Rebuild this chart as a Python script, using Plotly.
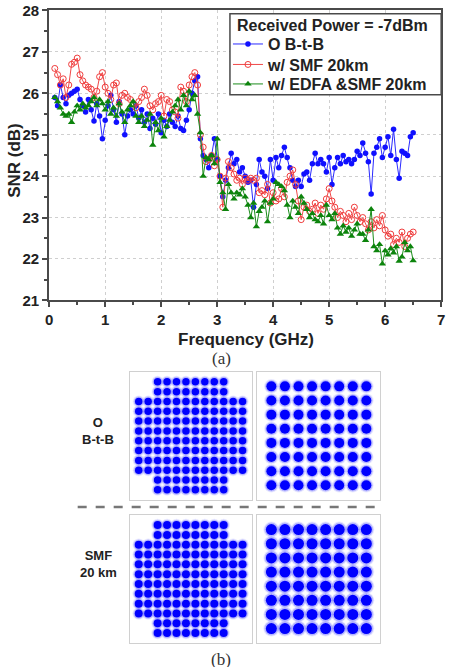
import plotly.graph_objects as go

# ---------------- data ----------------
freq_ghz = [round(0.10 + 0.05 * i, 2) for i in range(129)]

snr_btb = [
    25.9, 25.7, 26.2, 25.9, 25.75, 25.95, 26.0, 26.05, 26.1, 25.85,
    25.7, 25.55, 25.85, 25.6, 25.33, 25.75, 25.45, 24.9, 25.35, 25.7,
    25.95, 25.6, 25.3, 25.8, 25.5, 25.0, 25.45, 25.6, 25.5, 25.7,
    25.4, 25.6, 25.3, 25.5, 25.15, 25.4, 25.25, 25.5, 25.05, 25.35,
    25.2, 25.5, 25.3, 25.2, 25.45, 25.15, 25.1, 25.35, 25.6, 26.0,
    26.3, 26.4, 24.9, 24.5, 24.4, 24.2, 24.5, 24.9, 24.4, 24.0,
    23.5, 23.9, 24.2, 24.55, 24.3, 24.4, 24.1, 24.2, 24.0, 23.85,
    23.9, 23.25, 23.8, 24.4, 24.1, 24.0, 23.7, 24.4, 23.9, 24.45,
    24.2, 24.5, 24.7, 24.45, 24.2, 23.9, 23.75, 23.9, 23.75, 24.05,
    24.1, 23.9, 24.3, 24.55, 24.3, 24.4, 24.3, 24.1, 24.45, 23.8,
    24.2, 24.45, 24.3, 24.5, 24.35, 24.4, 24.3, 24.4, 24.6, 24.5,
    24.8, 24.55, 24.35, 23.57, 24.55, 24.7, 24.9, 24.45, 24.7, 24.95,
    24.5, 25.13, 24.4, 23.95, 24.6, 24.55, 24.5, 24.95, 25.05,
]

snr_smf = [
    26.6, 26.45, 26.2, 26.35, 25.9, 26.2, 26.7, 26.75, 26.85, 26.45,
    26.3, 26.2, 26.15, 26.1, 25.9, 26.05, 26.4, 26.5, 26.15, 26.0,
    25.85, 26.2, 26.25, 25.75, 25.95, 26.0, 25.9, 25.85, 25.75, 25.65,
    25.8, 25.9, 26.1, 25.95, 25.7, 25.6, 25.75, 25.8, 25.95, 25.45,
    25.85, 25.8, 25.6, 25.55, 25.4, 26.15, 26.05, 25.8, 26.2, 26.4,
    26.5, 26.2, 25.0, 24.7, 24.35, 24.4, 24.5, 24.25, 24.4, 24.0,
    23.25, 23.95, 24.35, 24.2, 24.05, 23.9, 23.95, 23.8, 23.95, 23.9,
    23.95, 23.9, 23.95, 23.6, 23.65, 23.55, 23.8, 23.35, 23.6, 23.4,
    23.45, 23.7, 23.5, 23.85, 24.0, 24.15, 23.8, 23.4, 22.95, 23.25,
    23.3, 23.15, 23.2, 23.35, 23.1, 23.3, 23.2, 23.45, 23.7, 23.4,
    23.25, 23.0, 23.15, 23.05, 22.9, 23.1, 22.95, 23.25, 23.05, 22.9,
    23.0, 22.85, 22.7, 22.9, 22.75, 22.95, 22.8, 23.05, 22.7, 22.55,
    22.6, 22.35, 22.5, 22.4, 22.65, 22.3, 22.5, 22.6, 22.65,
]

snr_edfa_smf = [
    25.9, 25.8, 25.65, 25.5, 25.45, 25.5, 25.3, 25.55, 25.7, 25.6,
    25.75, 25.65, 25.7, 25.8, 25.9, 25.7, 25.85, 25.75, 25.6, 25.8,
    25.5, 25.65, 25.45, 25.75, 25.55, 25.3, 25.6, 25.7, 25.8, 25.45,
    25.3, 25.45, 25.2, 25.35, 25.5, 24.75, 25.3, 25.1, 25.4, 24.95,
    25.2, 25.35, 25.55, 25.7, 25.85, 25.6, 25.95, 25.7, 26.05, 25.85,
    25.95, 25.5, 25.05, 24.0, 24.45, 24.4, 24.5, 24.3, 24.9, 23.85,
    23.6, 23.2, 23.8, 23.6, 23.45, 23.6, 23.55, 23.7, 23.5, 23.3,
    23.0, 23.35, 22.78, 23.15, 23.25, 23.4, 22.9, 23.35, 23.45, 23.85,
    23.8, 23.75, 23.65, 23.3, 23.0, 23.4, 23.25, 23.1, 23.5, 23.35,
    23.2, 23.0, 23.1, 22.95, 22.9, 23.05, 22.85, 23.3, 23.05, 22.95,
    23.1, 22.75, 22.6, 22.8, 22.65, 22.75, 22.55, 22.7, 22.85, 22.6,
    22.6, 22.45, 22.7, 23.2, 22.3, 22.2, 22.35, 21.88, 22.2, 22.1,
    22.25, 22.15, 22.3, 21.95, 22.05, 22.4, 22.2, 22.3, 21.96,
]

series_names = ["O B-t-B", "w/ SMF 20km", "w/ EDFA &SMF 20km"]
legend_title = "Received Power = -7dBm"
x_tick_vals = [0, 1, 2, 3, 4, 5, 6, 7]
y_tick_vals = [21, 22, 23, 24, 25, 26, 27, 28]
x_title = "Frequency (GHz)"
y_title = "SNR (dB)"

# constellation amplitude levels (128-QAM cross and 64-QAM square)
levels_128 = [-11, -9, -7, -5, -3, -1, 1, 3, 5, 7, 9, 11]
levels_64 = [-7, -5, -3, -1, 1, 3, 5, 7]
row_labels = ["O<br>B-t-B", "SMF<br>20 km"]
captions = ["(a)", "(b)"]

# ---------------- figure ----------------
W, H = 454, 667
def px(x):
    return x / W
def py(y):
    return 1 - y / H

BOLD = "Liberation Sans, Arial, sans-serif"
SERIF = "Liberation Serif, Times New Roman, serif"
fig = go.Figure()

styles = [
    dict(color="#2a2aff", symbol="circle", size=5.5, fill="#1010ff", lw=0, legend="legend"),
    dict(color="#f04848", symbol="circle-open", size=6, fill="#f03c3c", lw=1, legend="legend2"),
    dict(color="#1a8c1a", symbol="triangle-up", size=6.5, fill="#0c840c", lw=0, legend="legend3"),
]
for name, vals, st in zip(series_names, [snr_btb, snr_smf, snr_edfa_smf], styles):
    fig.add_trace(go.Scatter(
        x=freq_ghz, y=vals, name=name, mode="lines+markers",
        line=dict(color=st["color"], width=1),
        marker=dict(symbol=st["symbol"], size=st["size"], color=st["fill"],
                    line=dict(width=st["lw"], color=st["fill"])),
        xaxis="x", yaxis="y", legend=st["legend"],
    ))

# constellation points
pts128 = [(i, q) for i in levels_128 for q in levels_128 if not (abs(i) > 7 and abs(q) > 7)]
pts64 = [(i, q) for i in levels_64 for q in levels_64]

panels = [
    ("x2", "y2", pts128, 7.5, 10),
    ("x3", "y3", pts64, 10, 12.5),
    ("x4", "y4", pts128, 8, 10.5),
    ("x5", "y5", pts64, 11, 14),
]
for xa, ya, pts, core, halo in panels:
    xs = [p[0] for p in pts]
    ys = [p[1] for p in pts]
    fig.add_trace(go.Scatter(x=xs, y=ys, mode="markers", showlegend=False, hoverinfo="skip",
                             marker=dict(size=halo + 2, color="rgba(70,70,255,0.12)", line=dict(width=0)),
                             xaxis=xa, yaxis=ya))
    fig.add_trace(go.Scatter(x=xs, y=ys, mode="markers", showlegend=False, hoverinfo="skip",
                             marker=dict(size=halo, color="rgba(50,50,255,0.28)", line=dict(width=0)),
                             xaxis=xa, yaxis=ya))
    fig.add_trace(go.Scatter(x=xs, y=ys, mode="markers", showlegend=False, hoverinfo="skip",
                             marker=dict(size=core, color="#0000ff", line=dict(width=0)),
                             xaxis=xa, yaxis=ya))

axis_common = dict(
    showline=True, linecolor="#4a4a4a", linewidth=2, mirror=True,
    ticks="outside", ticklen=5, tickwidth=1.5, tickcolor="#4a4a4a",
    showgrid=True, gridcolor="#cfcfcf", griddash="dot", gridwidth=1,
    zeroline=False, ticklabeloverflow="allow",
    tickfont=dict(family=BOLD, size=15, color="#222", weight="bold"),
    minor=dict(ticks="outside", ticklen=3, tickwidth=1.5, tickcolor="#4a4a4a", dtick=0.5, showgrid=False),
)

panel_axis = dict(showline=True, linecolor="#d0d0d0", linewidth=1, mirror=True,
                  showgrid=False, zeroline=False, showticklabels=False, ticks="")

col_x = [(128, 252), (258, 383)]
row_y = [(372, 504), (519, 651)]

legend_font = dict(family=BOLD, size=16, color="#222", weight="bold")
def leg(ycenter):
    return dict(x=px(228), y=py(ycenter), xanchor="left", yanchor="middle",
                bgcolor="rgba(0,0,0,0)", borderwidth=0, font=legend_font, itemwidth=30)

layout = dict(
    width=W, height=H, margin=dict(l=0, r=0, t=0, b=0),
    paper_bgcolor="white", plot_bgcolor="white",
    xaxis=dict(domain=[px(46), px(445)], range=[0, 7], tickvals=x_tick_vals, anchor="y", **axis_common),
    yaxis=dict(domain=[py(299), py(1.5)], range=[21, 28], tickvals=y_tick_vals, anchor="x", **axis_common),
    legend=leg(36), legend2=leg(57), legend3=leg(77),
)
idx = 2
for r in range(2):
    for c in range(2):
        rng = [-12.9, 12.9] if c == 0 else [-9.05, 9.05]
        rngy = [-13.1, 13.1] if c == 0 else [-9.1, 9.1]
        layout[f"xaxis{idx}"] = dict(domain=[px(col_x[c][0]), px(col_x[c][1])], range=rng,
                                     anchor=f"y{idx}", **panel_axis)
        layout[f"yaxis{idx}"] = dict(domain=[py(row_y[r][1]), py(row_y[r][0])], range=rngy,
                                     anchor=f"x{idx}", **panel_axis)
        idx += 1
fig.update_layout(**layout)

def ann(text, x, y, font, xanchor="center", yanchor="middle", **kw):
    return dict(text=text, x=px(x), y=py(y), xref="paper", yref="paper", showarrow=False,
                xanchor=xanchor, yanchor=yanchor, font=font, **kw)

bold17 = dict(family=BOLD, size=17, color="#222", weight="bold")
bold13 = dict(family=BOLD, size=13, color="#222", weight="bold")
serif17 = dict(family=SERIF, size=17, color="#333")
annotations = [
    ann(legend_title, 235, 17, legend_font, xanchor="left"),
    ann(x_title, 246, 339, bold17),
    ann(y_title, 10, 155, bold17, textangle=-90),
    ann(captions[0], 221, 359, serif17),
    ann(captions[1], 221, 656, serif17, yanchor="top"),
    ann(row_labels[0], 96, 433, bold13),
    ann(row_labels[1], 96, 570, bold13),
]
fig.update_layout(annotations=annotations)

# legend frame
fig.add_shape(type="rect", xref="paper", yref="paper", x0=px(230), x1=px(445), y0=py(88), y1=py(5),
              fillcolor="white", line=dict(color="#4a4a4a", width=1.5), layer="above")
# separator between the two constellation rows
fig.add_shape(type="line", xref="paper", yref="paper", x0=px(75), x1=px(383), y0=py(511), y1=py(511),
              line=dict(color="#777", width=2.5, dash="dash"))

fig.write_html("out.html")
